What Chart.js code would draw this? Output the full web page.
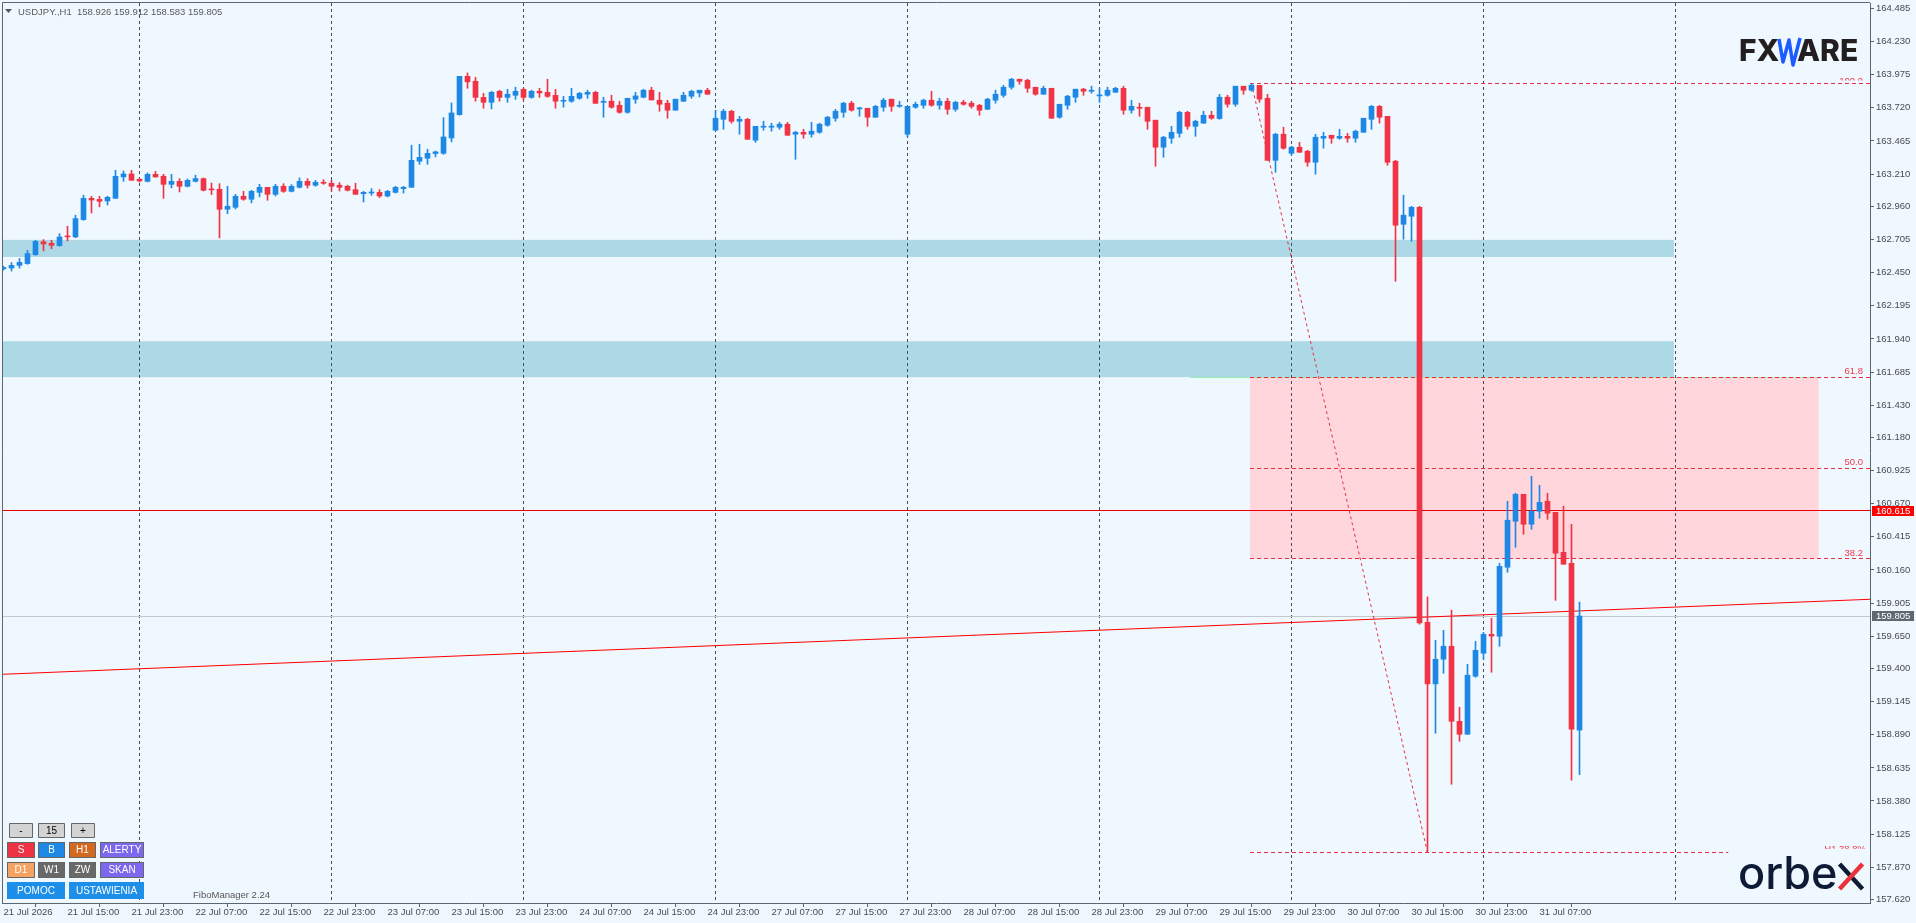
<!DOCTYPE html>
<html>
<head>
<meta charset="utf-8">
<title>USDJPY H1</title>
<script src="https://cdn.jsdelivr.net/npm/chart.js@4.4.1/dist/chart.umd.min.js"></script>
<style>
  html, body { margin: 0; padding: 0; background: #F0F8FF; overflow: hidden; }
  canvas { display: block; }
</style>
</head>
<body>
<canvas id="chart" width="1916" height="923"></canvas>
<script>
// H1 candles, bar 0 = 21 Jul 07:00
const opens = [
  162.480,162.486,162.507,162.520,162.589,162.689,162.677,162.659,162.731,162.726,
  162.859,163.023,163.015,163.003,163.023,163.188,163.211,163.170,163.154,163.208,
  163.193,163.131,163.154,163.116,163.154,163.175,163.093,163.093,162.939,162.954,
  163.039,163.016,163.069,163.108,163.054,163.116,163.077,163.108,163.154,163.124,
  163.147,163.139,163.124,163.116,163.090,163.059,163.064,163.069,163.041,163.069,
  163.098,163.108,163.309,163.332,163.368,163.370,163.488,163.668,163.963,163.925,
  163.801,163.763,163.848,163.801,163.817,163.863,163.801,163.848,163.840,163.817,
  163.771,163.771,163.794,163.825,163.840,163.763,163.771,163.740,163.686,163.786,
  163.802,163.856,163.779,163.756,163.702,163.771,163.810,163.835,163.856,163.548,
  163.632,163.694,163.617,163.632,163.471,163.571,163.571,163.571,163.594,163.517,
  163.532,163.517,163.532,163.586,163.640,163.686,163.756,163.712,163.717,163.648,
  163.725,163.787,163.732,163.517,163.725,163.740,163.779,163.740,163.771,163.709,
  163.763,163.756,163.740,163.709,163.779,163.817,163.879,163.941,163.933,163.879,
  163.825,163.871,163.648,163.740,163.802,163.864,163.848,163.812,163.817,163.840,
  163.871,163.702,163.725,163.725,163.625,163.417,163.486,163.524,163.686,163.578,
  163.602,163.663,163.638,163.802,163.748,163.887,163.856,163.894,163.794,163.316,
  163.517,163.370,163.417,163.386,163.301,163.486,163.509,163.486,163.501,163.486,
  163.532,163.632,163.732,163.655,163.309,162.823,162.885,162.954,159.757,159.282,
  159.472,159.572,158.994,158.894,159.341,159.518,159.664,159.649,160.181,160.535,
  160.743,160.512,160.612,160.689,160.604,160.296,160.211,158.926
];
const highs = [
  162.500,162.528,162.559,162.623,162.700,162.705,162.700,162.751,162.808,162.893,
  163.047,163.039,163.039,163.039,163.239,163.234,163.239,163.175,163.219,163.231,
  163.208,163.208,163.175,163.172,163.201,163.180,163.141,163.136,163.116,163.054,
  163.077,163.085,163.131,163.108,163.131,163.136,163.129,163.180,163.175,163.162,
  163.167,163.162,163.144,163.124,163.139,163.077,163.098,163.090,163.085,163.116,
  163.116,163.432,163.440,163.401,163.388,163.645,163.758,163.963,163.989,163.956,
  163.832,163.848,163.856,163.863,163.879,163.871,163.856,163.871,163.940,163.863,
  163.809,163.871,163.840,163.856,163.848,163.801,163.817,163.771,163.794,163.840,
  163.864,163.879,163.840,163.779,163.787,163.840,163.856,163.856,163.871,163.702,
  163.709,163.702,163.655,163.640,163.578,163.617,163.602,163.609,163.609,163.540,
  163.555,163.609,163.602,163.655,163.709,163.763,163.771,163.725,163.717,163.740,
  163.794,163.787,163.771,163.732,163.764,163.787,163.848,163.794,163.794,163.771,
  163.779,163.771,163.748,163.794,163.856,163.894,163.948,163.941,163.941,163.879,
  163.887,163.871,163.748,163.817,163.864,163.871,163.887,163.871,163.879,163.879,
  163.887,163.779,163.756,163.725,163.625,163.501,163.578,163.694,163.694,163.625,
  163.694,163.694,163.825,163.817,163.887,163.887,163.907,163.894,163.825,163.524,
  163.571,163.424,163.455,163.393,163.517,163.532,163.509,163.555,163.524,163.548,
  163.640,163.740,163.740,163.655,163.316,163.047,162.962,162.962,159.952,159.618,
  159.695,159.850,159.102,159.433,159.610,159.680,159.788,160.211,160.689,160.751,
  160.743,160.882,160.812,160.751,160.604,160.651,160.512,159.912
];
const lows = [
  162.470,162.463,162.486,162.515,162.584,162.618,162.635,162.654,162.695,162.720,
  162.854,162.910,162.957,162.972,163.023,163.154,163.162,163.149,163.149,163.185,
  163.023,163.103,163.072,163.111,163.149,163.080,163.052,162.718,162.905,162.941,
  163.008,162.988,163.034,163.008,163.041,163.069,163.072,163.103,163.103,163.116,
  163.131,163.080,163.080,163.080,163.054,162.995,163.046,163.028,163.034,163.064,
  163.064,163.108,163.285,163.285,163.342,163.362,163.458,163.663,163.871,163.771,
  163.717,163.712,163.771,163.763,163.786,163.778,163.794,163.801,163.801,163.717,
  163.725,163.763,163.786,163.794,163.755,163.648,163.717,163.678,163.678,163.755,
  163.797,163.781,163.694,163.640,163.702,163.771,163.794,163.804,163.825,163.543,
  163.555,163.602,163.517,163.478,163.455,163.548,163.540,163.555,163.509,163.324,
  163.486,163.494,163.524,163.578,163.617,163.648,163.694,163.655,163.578,163.648,
  163.694,163.694,163.725,163.496,163.717,163.717,163.732,163.709,163.671,163.694,
  163.740,163.717,163.663,163.709,163.756,163.802,163.864,163.902,163.840,163.817,
  163.825,163.640,163.640,163.709,163.763,163.817,163.833,163.763,163.810,163.840,
  163.671,163.679,163.655,163.555,163.270,163.340,163.447,163.494,163.555,163.501,
  163.602,163.632,163.632,163.725,163.732,163.825,163.848,163.763,163.316,163.224,
  163.401,163.355,163.378,163.270,163.209,163.409,163.447,163.478,163.455,163.455,
  163.532,163.555,163.602,163.278,162.384,162.708,162.692,159.742,157.982,158.902,
  159.364,158.509,158.840,158.894,159.333,159.472,159.372,159.572,160.142,160.335,
  160.435,160.473,160.558,160.550,159.926,160.204,158.540,158.583
];
const closes = [
  162.490,162.507,162.530,162.597,162.692,162.672,162.661,162.725,162.726,162.867,
  163.023,163.010,163.000,163.031,163.193,163.211,163.162,163.157,163.208,163.188,
  163.131,163.154,163.116,163.162,163.175,163.085,163.088,162.939,162.962,163.039,
  163.016,163.077,163.108,163.054,163.116,163.077,163.116,163.154,163.124,163.147,
  163.139,163.116,163.108,163.085,163.054,163.069,163.069,163.041,163.077,163.108,
  163.108,163.316,163.339,163.370,163.381,163.496,163.681,163.963,163.920,163.801,
  163.763,163.840,163.801,163.825,163.848,163.801,163.848,163.835,163.809,163.771,
  163.778,163.809,163.832,163.840,163.755,163.771,163.725,163.686,163.794,163.812,
  163.856,163.781,163.748,163.702,163.787,163.817,163.848,163.856,163.825,163.640,
  163.694,163.617,163.632,163.478,163.578,163.578,163.578,163.594,163.509,163.532,
  163.517,163.540,163.594,163.648,163.694,163.756,163.702,163.720,163.648,163.732,
  163.779,163.732,163.740,163.732,163.748,163.779,163.740,163.771,163.709,163.763,
  163.748,163.732,163.702,163.787,163.825,163.879,163.941,163.925,163.871,163.825,
  163.871,163.640,163.748,163.810,163.864,163.848,163.856,163.820,163.856,163.871,
  163.702,163.732,163.717,163.617,163.417,163.494,163.532,163.686,163.578,163.617,
  163.663,163.640,163.802,163.748,163.887,163.856,163.894,163.787,163.316,163.517,
  163.409,163.417,163.378,163.301,163.494,163.501,163.486,163.501,163.486,163.540,
  163.640,163.732,163.648,163.301,162.816,162.893,162.954,159.752,159.282,159.472,
  159.572,158.994,158.894,159.349,159.541,159.664,159.651,160.188,160.543,160.743,
  160.512,160.612,160.681,160.597,160.289,160.204,158.933,159.805
];

// axis labels
const timeLabels = [
  '21 Jul 2026','21 Jul 15:00','21 Jul 23:00','22 Jul 07:00','22 Jul 15:00',
  '22 Jul 23:00','23 Jul 07:00','23 Jul 15:00','23 Jul 23:00','24 Jul 07:00',
  '24 Jul 15:00','24 Jul 23:00','27 Jul 07:00','27 Jul 15:00','27 Jul 23:00',
  '28 Jul 07:00','28 Jul 15:00','28 Jul 23:00','29 Jul 07:00','29 Jul 15:00',
  '29 Jul 23:00','30 Jul 07:00','30 Jul 15:00','30 Jul 23:00','31 Jul 07:00'
];
const priceTicks = [
  164.485,164.230,163.975,163.720,163.465,163.210,162.960,162.705,162.450,162.195,
  161.940,161.685,161.430,161.180,160.925,160.670,160.415,160.160,159.905,159.650,
  159.400,159.145,158.890,158.635,158.380,158.125,157.870,157.620
];

// day separators (bar index of 00:00)
const separatorBars = [17, 41, 65, 89, 113, 137, 161, 185, 209];

// blue zones
const zoneLows = [162.571, 161.645];
const zoneHighs = [162.703, 161.922];
const zoneEndBar = 208.8;

// fibo
const fibHigh = 163.907;
const fibLow = 157.982;
const fibFromBar = 156;
const fibToBar = 178;
const fibLevels = [100, 61.8, 50, 38.2, 0];
const fibZeroEndBar = 215.6;
const fibBoxEndBar = 226.9;

// lines
const resistanceLevel = 160.615;
const bidLevel = 159.805;
const trendBars = [-0.1875, 233.3125];
const trendPrices = [159.356, 159.934];

const UP = '#1E88E5';
const DOWN = '#EF3445';
const barIdx = opens.map((_, i) => i);
const candleColors = barIdx.map(i => closes[i] >= opens[i] ? UP : DOWN);
const fibPrice = lvl => fibLow + (fibHigh - fibLow) * lvl / 100;

const FONT = 'Liberation Sans';

const overlays = {
  id: 'overlays',
  beforeDraw(chart) {
    const { ctx, width, height } = chart;
    ctx.save();
    ctx.fillStyle = '#F0F8FF';
    ctx.fillRect(0, 0, width, height);
    ctx.restore();
  },
  beforeDatasetsDraw(chart) {
    const { ctx, chartArea: a, scales: { x, y } } = chart;
    const crisp = v => Math.floor(v) + 0.5;
    ctx.save();
    ctx.beginPath();
    ctx.rect(a.left, a.top, a.right - a.left, a.bottom - a.top);
    ctx.clip();

    // zones
    ctx.fillStyle = '#ADD8E6';
    zoneLows.forEach((lo, i) => {
      const t = y.getPixelForValue(zoneHighs[i]);
      const b = y.getPixelForValue(lo);
      ctx.fillRect(a.left, t, x.getPixelForValue(zoneEndBar) - a.left, b - t);
    });

    // fibo box 61.8 - 38.2
    const fx0 = x.getPixelForValue(fibFromBar) - 1.5;
    const boxTop = y.getPixelForValue(fibPrice(61.8));
    const boxBot = y.getPixelForValue(fibPrice(38.2));
    ctx.fillStyle = '#FFD6DC';
    ctx.fillRect(fx0, boxTop, x.getPixelForValue(fibBoxEndBar) - fx0, boxBot - boxTop);
    ctx.strokeStyle = '#98F0B0';
    ctx.lineWidth = 1;
    ctx.beginPath();
    ctx.moveTo(fx0 - 60, crisp(boxTop));
    ctx.lineTo(x.getPixelForValue(fibBoxEndBar), crisp(boxTop));
    ctx.stroke();

    // separators
    ctx.strokeStyle = '#444C55';
    ctx.setLineDash([3, 3]);
    separatorBars.forEach(b => {
      const px = crisp(x.getPixelForValue(b));
      ctx.beginPath();
      ctx.moveTo(px, a.top);
      ctx.lineTo(px, a.bottom);
      ctx.stroke();
    });

    // bid line
    ctx.setLineDash([]);
    ctx.strokeStyle = '#C4C8CC';
    let py = crisp(y.getPixelForValue(bidLevel));
    ctx.beginPath(); ctx.moveTo(a.left, py); ctx.lineTo(a.right, py); ctx.stroke();

    // resistance line
    ctx.strokeStyle = '#E80000';
    py = crisp(y.getPixelForValue(resistanceLevel));
    ctx.beginPath(); ctx.moveTo(a.left, py); ctx.lineTo(a.right, py); ctx.stroke();

    // fibo levels
    ctx.strokeStyle = '#E8303F';
    ctx.setLineDash([4, 3]);
    fibLevels.forEach(lvl => {
      const ly = crisp(y.getPixelForValue(fibPrice(lvl)));
      const end = lvl === 0 ? x.getPixelForValue(fibZeroEndBar) : a.right;
      ctx.beginPath(); ctx.moveTo(fx0, ly); ctx.lineTo(end, ly); ctx.stroke();
    });
    ctx.setLineDash([3, 3]);
    ctx.beginPath();
    ctx.moveTo(x.getPixelForValue(fibFromBar), y.getPixelForValue(fibHigh));
    ctx.lineTo(x.getPixelForValue(fibToBar), y.getPixelForValue(fibLow));
    ctx.stroke();
    ctx.restore();
  },
  afterDraw(chart) {
    const { ctx, chartArea: a, scales: { y } } = chart;
    ctx.save();

    // frame top / left
    ctx.strokeStyle = '#5B6670';
    ctx.lineWidth = 1;
    ctx.beginPath();
    ctx.moveTo(a.left + 0.5, a.bottom);
    ctx.lineTo(a.left + 0.5, a.top - 0.5);
    ctx.lineTo(a.right, a.top - 0.5);
    ctx.stroke();

    // title
    ctx.fillStyle = '#555';
    ctx.beginPath();
    ctx.moveTo(5, 9); ctx.lineTo(12, 9); ctx.lineTo(8.5, 13); ctx.closePath();
    ctx.fill();
    ctx.fillStyle = '#5A5A5A';
    ctx.font = `9.5px ${FONT}`;
    ctx.textBaseline = 'alphabetic';
    ctx.textAlign = 'left';
    ctx.fillText('USDJPY.,H1  158.926 159.912 158.583 159.805', 18, 15);

    // fibo labels
    ctx.fillStyle = '#F0374A';
    ctx.font = `9.5px ${FONT}`;
    ctx.textAlign = 'right';
    const labels = { 100: '100.0', 61.8: '61.8', 50: '50.0', 38.2: '38.2' };
    fibLevels.forEach(lvl => {
      const ly = y.getPixelForValue(fibPrice(lvl));
      if (lvl === 0) {
        ctx.save();
        ctx.beginPath(); ctx.rect(1800, ly - 12, 70, 8); ctx.clip();
        ctx.fillText('H1 38.8%', 1866, ly - 1);
        ctx.restore();
      } else if (lvl === 100) {
        ctx.save();
        ctx.beginPath(); ctx.rect(1800, ly - 12, 70, 9); ctx.clip();
        ctx.fillText(labels[lvl], 1863, ly);
        ctx.restore();
      } else {
        ctx.fillText(labels[lvl], 1863, ly - 3);
      }
    });

    // price tags on the axis
    const tag = (price, bg) => {
      const ty = y.getPixelForValue(price);
      ctx.fillStyle = bg;
      ctx.fillRect(1872, Math.round(ty) - 5, 42, 10);
      ctx.fillStyle = '#FFFFFF';
      ctx.font = `9.5px ${FONT}`;
      ctx.textAlign = 'left';
      ctx.textBaseline = 'middle';
      ctx.fillText(price.toFixed(3), 1876, Math.round(ty) + 0.5);
    };
    tag(resistanceLevel, '#FF0000');
    tag(bidLevel, '#5D6870');

    // FXWARE logo
    ctx.textBaseline = 'alphabetic';
    ctx.textAlign = 'left';
    ctx.font = `800 30px Inter`;
    ctx.fillStyle = '#231F20';
    ctx.fillText('FX', 1739, 61);
    ctx.fillText('ARE', 1797, 61);
    ctx.strokeStyle = '#1A5CFF';
    ctx.lineWidth = 3.5;
    ctx.lineJoin = 'round';
    ctx.beginPath();
    ctx.moveTo(1779, 39); ctx.lineTo(1783, 62); ctx.lineTo(1789, 40);
    ctx.lineTo(1793, 65); ctx.lineTo(1800, 38);
    ctx.stroke();

    // orbex logo
    ctx.font = `500 45px Inter`;
    ctx.fillStyle = '#0E1B36';
    ctx.fillText('orbe', 1738, 889);
    const ox = 1738 + ctx.measureText('orbe').width + 2;
    ctx.lineWidth = 4.5;
    ctx.lineCap = 'butt';
    ctx.strokeStyle = '#0E1B36';
    ctx.beginPath(); ctx.moveTo(ox, 864); ctx.lineTo(ox + 23, 889); ctx.stroke();
    ctx.strokeStyle = '#E8333C';
    ctx.beginPath(); ctx.moveTo(ox, 889); ctx.lineTo(ox + 23, 864); ctx.stroke();

    // panel buttons
    const buttons = [
      ['-', 9, 823, 24, 15, '#D3D3D3', '#000', true],
      ['15', 38, 823, 27, 15, '#D3D3D3', '#000', true],
      ['+', 71, 823, 24, 15, '#D3D3D3', '#000', true],
      ['S', 7, 842, 28, 16, '#EE3344', '#fff', true],
      ['B', 38, 842, 27, 16, '#1E88E5', '#fff', true],
      ['H1', 69, 842, 27, 16, '#D2691E', '#fff', true],
      ['ALERTY', 100, 842, 44, 16, '#7B68EE', '#fff', true],
      ['D1', 7, 862, 28, 16, '#F4A460', '#fff', true],
      ['W1', 38, 862, 27, 16, '#696969', '#fff', true],
      ['ZW', 69, 862, 27, 16, '#696969', '#fff', true],
      ['SKAN', 100, 862, 44, 16, '#7B68EE', '#fff', true],
      ['POMOC', 7, 882, 58, 17, '#1E8FE8', '#fff', false],
      ['USTAWIENIA', 69, 882, 75, 17, '#1E8FE8', '#fff', false]
    ];
    ctx.font = `10px ${FONT}`;
    ctx.textAlign = 'center';
    ctx.textBaseline = 'middle';
    ctx.lineWidth = 1;
    buttons.forEach(([t, bx, by, bw, bh, bg, fg, border]) => {
      ctx.fillStyle = bg;
      ctx.fillRect(bx, by, bw, bh);
      if (border) {
        ctx.strokeStyle = '#666';
        ctx.strokeRect(bx + 0.5, by + 0.5, bw - 1, bh - 1);
      }
      ctx.fillStyle = fg;
      ctx.fillText(t, bx + bw / 2, by + bh / 2 + 0.5);
    });

    ctx.fillStyle = '#555';
    ctx.textAlign = 'left';
    ctx.textBaseline = 'alphabetic';
    ctx.font = `9.5px ${FONT}`;
    ctx.fillText('FiboManager 2.24', 193, 898);
    ctx.restore();
  }
};

new Chart(document.getElementById('chart'), {
  type: 'bar',
  data: {
    datasets: [
      {
        type: 'line',
        data: [{ x: trendBars[0], y: trendPrices[0] }, { x: trendBars[1], y: trendPrices[1] }],
        borderColor: '#FF0000',
        borderWidth: 1,
        pointRadius: 0,
        order: 3
      },
      {
        label: 'wicks',
        data: barIdx.map(i => ({ x: i, y: [lows[i], highs[i]] })),
        backgroundColor: candleColors,
        barThickness: 1,
        grouped: false,
        order: 2
      },
      {
        label: 'bodies',
        data: barIdx.map(i => ({ x: i, y: [opens[i], closes[i]] })),
        backgroundColor: candleColors,
        barThickness: 5,
        minBarLength: 1,
        grouped: false,
        order: 1
      }
    ]
  },
  options: {
    responsive: false,
    animation: false,
    devicePixelRatio: 1,
    events: [],
    layout: { padding: { left: 2, top: 3, right: 0, bottom: 0 } },
    plugins: { legend: { display: false }, tooltip: { enabled: false } },
    scales: {
      x: {
        type: 'linear',
        min: trendBars[0],
        max: trendBars[1],
        offset: false,
        bounds: 'data',
        afterBuildTicks: s => { s.ticks = timeLabels.map((_, i) => ({ value: i * 8 })); },
        afterFit: s => { s.height = 20; s.paddingLeft = 0; s.paddingRight = 0; },
        ticks: {
          autoSkip: false,
          maxRotation: 0,
          align: 'start',
          padding: 0,
          color: '#4A4A4A',
          font: { family: FONT, size: 9.5 },
          callback: (v, i) => timeLabels[i]
        },
        grid: { drawOnChartArea: false, drawTicks: true, tickLength: 4, color: '#5B6670' },
        border: { display: true, color: '#5B6670', width: 1 }
      },
      y: {
        type: 'linear',
        position: 'right',
        min: 157.594,
        max: 164.528,
        bounds: 'data',
        afterBuildTicks: s => { s.ticks = priceTicks.map(v => ({ value: v })); },
        afterFit: s => { s.width = 46; s.paddingTop = 0; s.paddingBottom = 0; },
        ticks: {
          padding: 2,
          color: '#4A4A4A',
          font: { family: FONT, size: 9.5 },
          callback: v => Number(v).toFixed(3)
        },
        grid: { drawOnChartArea: false, drawTicks: true, tickLength: 4, color: '#5B6670' },
        border: { display: true, color: '#5B6670', width: 1 }
      }
    }
  },
  plugins: [overlays]
});
</script>
</body>
</html>
